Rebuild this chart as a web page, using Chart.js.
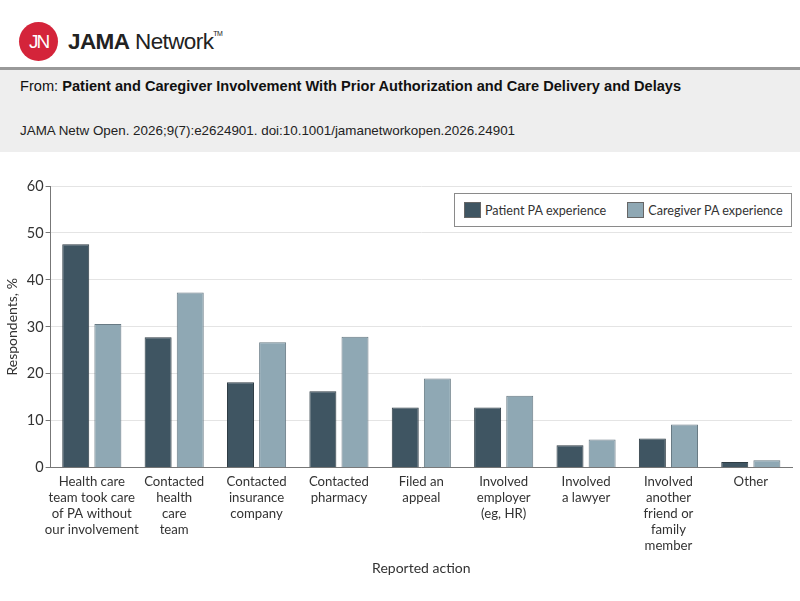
<!DOCTYPE html>
<html>
<head>
<meta charset="utf-8">
<script src="https://cdn.jsdelivr.net/npm/chart.js@4"></script>
<style>
  body { margin: 0; width: 800px; height: 601px; background: #fff; overflow: hidden; font-family: "Liberation Sans", Arial, sans-serif; }
  .top { position: relative; height: 67px; }
  .logo { position: absolute; left: 19px; top: 22px; width: 39px; height: 39px; border-radius: 50%; background: #d4243a; color: #fff; font: 300 19px "Liberation Sans", Arial, sans-serif; text-align: center; line-height: 39px; letter-spacing: -2px; }
  .brand { position: absolute; left: 68px; top: 29px; font-size: 22.5px; color: #222; letter-spacing: -0.6px; }
  .brand b { font-weight: bold; }
  .brand sup { font-size: 7px; vertical-align: 13px; }
  .band { background: #eeeeee; border-top: 3px solid #999; height: 82px; position: relative; font-size: 14.6px; color: #111; }
  .from { position: absolute; left: 20px; top: 8px; }
  .cite { position: absolute; left: 20px; top: 53px; font-size: 13.4px; color: #222; }
  .wrap { position: relative; width: 800px; height: 449px; }
  .legend { position: absolute; left: 454px; top: 41px; width: 336px; height: 32px; border: 1px solid #8a8a8a; background: #fff; font: 12.6px Lato, sans-serif; color: #333; display: flex; align-items: center; white-space: nowrap; }
  .legend span.sw { display: inline-block; flex: none; width: 17px; height: 16px; box-sizing: border-box; border: 1px solid #666; margin: 0 4px 0 9px; }
  .legend .item { display: flex; align-items: center; margin-right: 12px; }
</style>
</head>
<body>
<div class="top">
  <div class="logo">JN</div>
  <div class="brand"><b>JAMA</b> Network<sup>TM</sup></div>
</div>
<div class="band">
  <div class="from">From: <b>Patient and Caregiver Involvement With Prior Authorization and Care Delivery and Delays</b></div>
  <div class="cite">JAMA Netw Open. 2026;9(7):e2624901. doi:10.1001/jamanetworkopen.2026.24901</div>
</div>
<div class="wrap">
  <canvas id="chart" width="800" height="449"></canvas>
  <div class="legend" id="legend"></div>
</div>
<script>
const actions = [
  ["Health care", "team took care", "of PA without", "our involvement"],
  ["Contacted", "health", "care", "team"],
  ["Contacted", "insurance", "company"],
  ["Contacted", "pharmacy"],
  ["Filed an", "appeal"],
  ["Involved", "employer", "(eg, HR)"],
  ["Involved", "a lawyer"],
  ["Involved", "another", "friend or", "family", "member"],
  ["Other"]
];
const patientPct = [47.6, 27.8, 18.2, 16.3, 12.8, 12.8, 4.8, 6.2, 1.2];
const caregiverPct = [30.6, 37.3, 26.7, 27.9, 19.0, 15.3, 6.0, 9.2, 1.6];
const yTicks = [0, 10, 20, 30, 40, 50, 60];

const darkBar = '#3f5562';
const lightBar = '#8fa8b4';

const font = { family: 'Lato, sans-serif', size: 13.2, lineHeight: 1.22 };
const tickFont = { family: 'Lato, sans-serif', size: 14.5 };

let chart = new Chart(document.getElementById('chart'), {
  type: 'bar',
  data: {
    labels: actions,
    datasets: [{
      label: 'Patient PA experience',
      data: patientPct,
      backgroundColor: darkBar,
      borderColor: '#2e3c44',
      borderWidth: 1,
      barPercentage: 0.84,
      categoryPercentage: 0.78
    }, {
      label: 'Caregiver PA experience',
      data: caregiverPct,
      backgroundColor: lightBar,
      borderColor: '#687a84',
      borderWidth: 1,
      barPercentage: 0.84,
      categoryPercentage: 0.78
    }]
  },
  options: {
    responsive: false,
    animation: false,
    layout: { padding: { top: 34, right: 8, bottom: 24 } },
    plugins: {
      legend: { display: false },
      tooltip: { enabled: false }
    },
    scales: {
      x: {
        grid: { display: false, drawTicks: false },
        border: { color: '#777', width: 1 },
        ticks: { color: '#333', font: font, padding: 6, maxRotation: 0, autoSkip: false },
        title: { display: true, text: 'Reported action', color: '#333', font: { family: 'Lato, sans-serif', size: 14 }, padding: { top: 0, bottom: 0 } }
      },
      y: {
        min: 0,
        max: 60,
        afterBuildTicks: (axis) => { axis.ticks = yTicks.map(v => ({ value: v })); },
        grid: { color: '#e4e4e4', tickColor: '#777', tickLength: 5 },
        border: { color: '#777', width: 1 },
        ticks: { color: '#333', font: tickFont, padding: 2 },
        title: { display: true, text: 'Respondents, %', color: '#333', font: { family: 'Lato, sans-serif', size: 14 }, padding: { bottom: 4 } }
      }
    }
  }
});

// legend drawn as html box inside plot
const legendBox = document.getElementById('legend');
chart.data.datasets.forEach(ds => {
  const item = document.createElement('div');
  item.className = 'item';
  item.innerHTML = `<span class="sw" style="background:${ds.backgroundColor}"></span>${ds.label}`;
  legendBox.appendChild(item);
});
</script>
</body>
</html>
